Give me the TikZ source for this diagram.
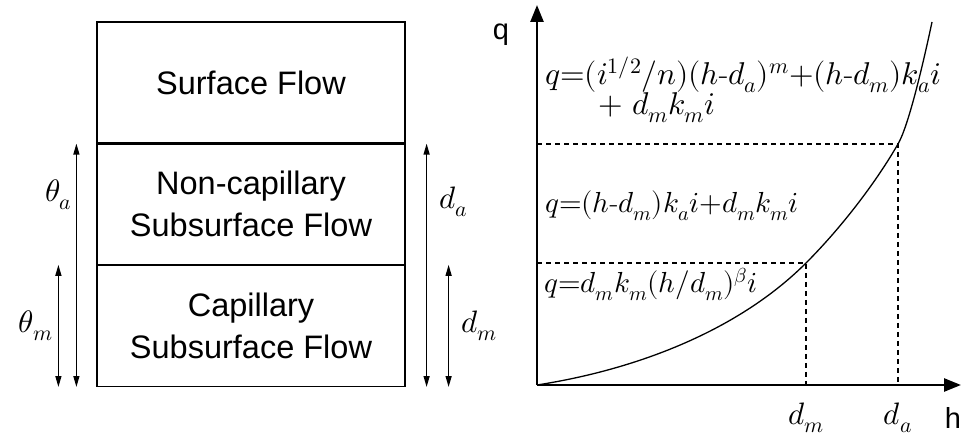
\documentclass[tikz,border=0pt]{standalone}
\usepackage{fontspec}
\usepackage{unicode-math}
\setmathfont{Latin Modern Math}
\setsansfont{Liberation Sans}
\usepackage{tikz}
\usetikzlibrary{arrows.meta,positioning,calc}
\tikzset{
  layer/.style={draw, rectangle, minimum width=308pt, align=center, inner sep=0pt, line width=1.2pt, font=\sffamily\fontsize{32.5}{42}\selectfont},
  dimarr/.style={{Triangle[length=11pt,width=6pt]}-{Triangle[length=11pt,width=6pt]}, line width=1.3pt},
  axis/.style={-{Triangle[length=17pt,width=13pt]}, line width=2.6pt},
  guide/.style={line width=1.2pt, dash pattern=on 5pt off 4pt},
  eqn/.style={anchor=base west, inner sep=0pt, font=\fontsize{31.5}{34}\selectfont},
  lbl/.style={inner sep=0pt, font=\fontsize{31}{34}\selectfont},
}

\begin{document}
\begin{tikzpicture}[x=1pt, y=1pt]
\useasboundingbox (0,0) rectangle (963,439);

% soil layers
\node[layer, minimum height=121pt] (surface) at (251,356.5) {Surface Flow};
\node[layer, minimum height=120pt, below=0pt of surface] (noncap) {Non-capillary\\Subsurface Flow};
\node[layer, minimum height=121pt, below=0pt of noncap] (cap) {Capillary\\Subsurface Flow};

\draw[dimarr] ([xshift=-20pt]cap.south west) -- node[lbl, pos=0.79, left=4pt] {$\theta_a$} ([xshift=-20pt]noncap.north west);
\draw[dimarr] ([xshift=-38pt]cap.south west) -- node[lbl, midway, left=5pt] {$\theta_m$} ([xshift=-38pt]cap.north west);
\draw[dimarr] ([xshift=21pt]cap.south east) -- node[lbl, pos=0.76, right=12pt] {$d_a$} ([xshift=21pt]noncap.north east);
\draw[dimarr] ([xshift=43pt]cap.south east) -- node[lbl, midway, right=12pt] {$d_m$} ([xshift=43pt]cap.north east);

% rating curve
\coordinate (o) at (537,54);
\coordinate (ytip) at (537,434);
\coordinate (xtip) at (961,54);
\coordinate (pm) at (806,176);
\coordinate (pa) at (898,295);
\coordinate (top) at (932,417);

\draw[guide] (o |- pa) -- (pa) -- (pa |- o);
\draw[guide] (o |- pm) -- (pm) -- (pm |- o);
\draw[axis] (o) -- (ytip);
\draw[axis] (o) -- (xtip);
\draw[line width=1.3pt] (o) .. controls (640,70) and (740,110) .. (pm)
  .. controls (840,210) and (875,255) .. (pa)
  .. controls (908,312) and (922,370) .. (top);

\node[lbl, font=\sffamily\fontsize{29}{34}\selectfont] (qlab) at (501,404) {q};
\node[lbl, font=\sffamily\fontsize{29}{34}\selectfont] (hlab) at (953,21) {h};
\node[lbl] (dmlab) at (pm |- hlab) {$d_m$};
\node[lbl] (dalab) at (pa |- hlab) {$d_a$};

\node[eqn] (eqsurf) at (545,354) {$q{=}(i^{1/2}/n)(h\mbox{-}d_a)^m{+}(h\mbox{-}d_m)k_ai$};
\node[eqn] (eqsurfb) at (598,324) {$+\ d_mk_mi$};
\node[eqn, font=\fontsize{29}{34}\selectfont] (eqnoncap) at (545,226) {$q{=}(h\mbox{-}d_m)k_ai{+}d_mk_mi$};
\node[eqn, font=\fontsize{29}{34}\selectfont] (eqcap) at (544,146) {$q{=}d_mk_m(h/d_m)^{\beta}i$};

\end{tikzpicture}
\end{document}
